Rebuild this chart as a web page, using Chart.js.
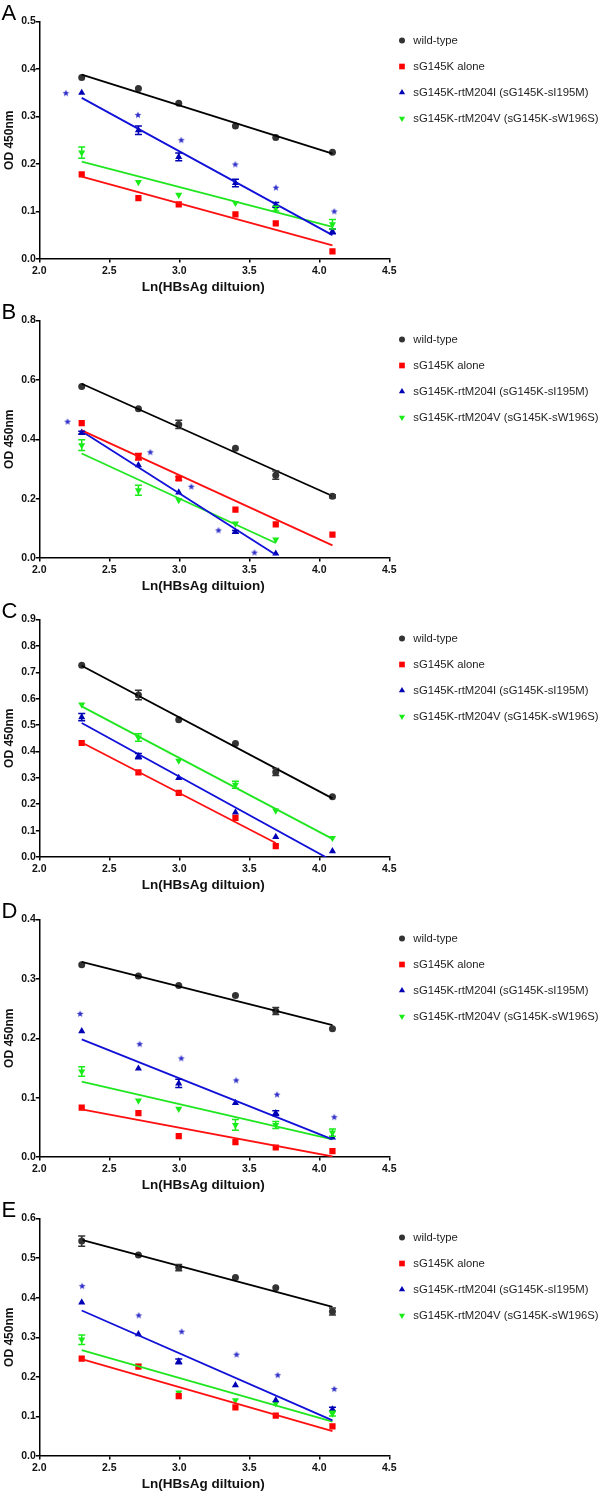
<!DOCTYPE html>
<html><head><meta charset="utf-8">
<script src="https://cdn.jsdelivr.net/npm/chart.js@4.4.1/dist/chart.umd.min.js"></script>
<style>
html,body{margin:0;padding:0;background:#fff;width:600px;height:1491px;overflow:hidden;position:relative;}
.panel{position:absolute;left:0;width:600px;height:295px;}
.panel canvas{position:absolute;left:0;top:0;}
.letter{position:absolute;left:1.5px;top:2.2px;font:22px "Liberation Sans",Arial,sans-serif;line-height:22px;color:#000;}
</style></head><body>
<script>
const FONT = '"Liberation Sans", Arial, Helvetica, sans-serif';

// ---------- shared ----------
const xValues = [2.303, 2.708, 2.996, 3.401, 3.689, 4.094];   // Ln(10,15,20,30,40,60)
const xTicks = [2.0, 2.5, 3.0, 3.5, 4.0, 4.5];
const seriesNames = ['wild-type', 'sG145K alone', 'sG145K-rtM204I (sG145K-sI195M)', 'sG145K-rtM204V (sG145K-sW196S)'];
const panelLetters = ['A', 'B', 'C', 'D', 'E'];
const yTitle = 'OD 450nm';
const xTitle = 'Ln(HBsAg diltuion)';

// ---------- panel A ----------
const yTicksA = [0.0, 0.1, 0.2, 0.3, 0.4, 0.5];
const wildA = [0.382, 0.359, 0.328, 0.280, 0.256, 0.225];
const wildErrA = [0, 0, 0, 0, 0, 0];
const aloneA = [0.178, 0.128, 0.115, 0.094, 0.075, 0.016];
const aloneErrA = [0, 0, 0, 0, 0, 0];
const m204iA = [0.350, 0.271, 0.215, 0.160, 0.114, 0.058];
const m204iErrA = [0, 0.009, 0.008, 0.008, 0.005, 0.005];
const m204vA = [0.224, 0.162, 0.135, 0.118, 0.106, 0.073];
const m204vErrA = [0.012, 0, 0, 0, 0.005, 0.010];
const starXA = [2.19, 2.705, 3.014, 3.40, 3.69, 4.107];
const starYA = [0.349, 0.303, 0.250, 0.199, 0.150, 0.100];

// ---------- panel B ----------
const yTicksB = [0.0, 0.2, 0.4, 0.6, 0.8];
const wildB = [0.578, 0.503, 0.450, 0.370, 0.279, 0.208];
const wildErrB = [0, 0, 0.014, 0, 0.014, 0.005];
const aloneB = [0.454, 0.341, 0.268, 0.163, 0.113, 0.079];
const aloneErrB = [0, 0.011, 0.006, 0, 0, 0];
const m204iB = [0.422, 0.313, 0.221, 0.088, 0.015];
const m204iErrB = [0.005, 0, 0, 0.005, 0];
const m204vB = [0.380, 0.228, 0.195, 0.116, 0.062];
const m204vErrB = [0.018, 0.017, 0, 0, 0];
const starXB = [2.202, 2.793, 3.086, 3.28, 3.537];
const starYB = [0.459, 0.356, 0.240, 0.093, 0.018];

// ---------- panel C ----------
const yTicksC = [0.0, 0.1, 0.2, 0.3, 0.4, 0.5, 0.6, 0.7, 0.8, 0.9];
const wildC = [0.727, 0.614, 0.520, 0.430, 0.322, 0.228];
const wildErrC = [0, 0.018, 0, 0, 0.013, 0];
const aloneC = [0.432, 0.321, 0.243, 0.148, 0.041];
const aloneErrC = [0, 0, 0, 0, 0];
const m204iC = [0.530, 0.382, 0.300, 0.169, 0.076, 0.022];
const m204iErrC = [0.014, 0.010, 0, 0, 0, 0];
const m204vC = [0.578, 0.453, 0.365, 0.274, 0.176, 0.072];
const m204vErrC = [0, 0.014, 0, 0.013, 0, 0];
const starXC = [];
const starYC = [];

// ---------- panel D ----------
const yTicksD = [0.0, 0.1, 0.2, 0.3, 0.4];
const wildD = [0.324, 0.305, 0.289, 0.272, 0.246, 0.216];
const wildErrD = [0, 0, 0, 0, 0.006, 0];
const aloneD = [0.083, 0.074, 0.035, 0.025, 0.016, 0.010];
const aloneErrD = [0, 0, 0, 0, 0, 0];
const m204iD = [0.212, 0.149, 0.124, 0.091, 0.074, 0.033];
const m204iErrD = [0, 0, 0.007, 0, 0.004, 0];
const m204vD = [0.144, 0.095, 0.081, 0.054, 0.054, 0.041];
const m204vErrD = [0.008, 0, 0, 0.009, 0.006, 0.006];
const starXD = [2.292, 2.717, 3.014, 3.406, 3.698, 4.107];
const starYD = [0.241, 0.190, 0.166, 0.129, 0.105, 0.067];

// ---------- panel E ----------
const yTicksE = [0.0, 0.1, 0.2, 0.3, 0.4, 0.5, 0.6];
const wildE = [0.543, 0.508, 0.476, 0.451, 0.425, 0.365];
const wildErrE = [0.013, 0, 0.008, 0, 0, 0.009];
const aloneE = [0.246, 0.226, 0.151, 0.123, 0.102, 0.075];
const aloneErrE = [0, 0, 0, 0, 0, 0];
const m204iE = [0.388, 0.308, 0.239, 0.179, 0.141, 0.118];
const m204iErrE = [0, 0, 0.006, 0, 0, 0.005];
const m204vE = [0.294, 0.228, 0.160, 0.141, 0.133, 0.107];
const m204vErrE = [0.012, 0, 0, 0, 0, 0.006];
const starXE = [2.306, 2.71, 3.017, 3.409, 3.703, 4.107];
const starYE = [0.429, 0.355, 0.314, 0.256, 0.204, 0.169];

const panels = [
  {yTicks: yTicksA, series: [[wildA, wildErrA], [aloneA, aloneErrA], [m204iA, m204iErrA], [m204vA, m204vErrA]], stars: [starXA, starYA]},
  {yTicks: yTicksB, series: [[wildB, wildErrB], [aloneB, aloneErrB], [m204iB, m204iErrB], [m204vB, m204vErrB]], stars: [starXB, starYB]},
  {yTicks: yTicksC, series: [[wildC, wildErrC], [aloneC, aloneErrC], [m204iC, m204iErrC], [m204vC, m204vErrC]], stars: [starXC, starYC]},
  {yTicks: yTicksD, series: [[wildD, wildErrD], [aloneD, aloneErrD], [m204iD, m204iErrD], [m204vD, m204vErrD]], stars: [starXD, starYD]},
  {yTicks: yTicksE, series: [[wildE, wildErrE], [aloneE, aloneErrE], [m204iE, m204iErrE], [m204vE, m204vErrE]], stars: [starXE, starYE]},
];

// ---------- styles ----------
const panelTops = [0, 299, 598, 898, 1197];
const styles = [
  {point: '#333333', line: '#000000', pointStyle: 'circle', radius: 3.5, rotation: 0, legendRadius: 3},
  {point: '#ff0000', line: '#ff1010', pointStyle: 'rect', radius: 4.4, rotation: 0, legendRadius: 4},
  {point: '#0000b4', line: '#1010d8', pointStyle: 'triangle', radius: 4.1, rotation: 0, legendRadius: 3.6},
  {point: '#19ec19', line: '#20e620', pointStyle: 'triangle', radius: 4.1, rotation: 180, legendRadius: 3.6},
];
const starColor = '#2c2cc8';

function makeStar(color, R, r) {
  const size = Math.ceil(R * 2) + 2;
  const c = document.createElement('canvas');
  c.width = size; c.height = size;
  const g = c.getContext('2d');
  g.fillStyle = color;
  g.beginPath();
  for (let i = 0; i < 10; i++) {
    const ang = -Math.PI / 2 + i * Math.PI / 5;
    const rad = i % 2 ? r : R;
    g.lineTo(size / 2 + rad * Math.cos(ang), size / 2 + rad * Math.sin(ang));
  }
  g.closePath(); g.fill();
  return c;
}
const starImg = makeStar(starColor, 3.6, 1.5);

function linFit(xs, ys) {
  const n = ys.length;
  let mx = 0, my = 0;
  for (let i = 0; i < n; i++) { mx += xs[i]; my += ys[i]; }
  mx /= n; my /= n;
  let sxy = 0, sxx = 0;
  for (let i = 0; i < n; i++) { sxy += (xs[i] - mx) * (ys[i] - my); sxx += (xs[i] - mx) * (xs[i] - mx); }
  const m = sxy / sxx, b = my - m * mx;
  return [{x: xs[0], y: m * xs[0] + b}, {x: xs[n - 1], y: m * xs[n - 1] + b}];
}

const errorBarPlugin = {
  id: 'errorBars',
  afterDatasetsDraw(chart) {
    const ctx = chart.ctx, ys = chart.scales.y;
    chart.data.datasets.forEach((ds, i) => {
      if (!ds.errors) return;
      const meta = chart.getDatasetMeta(i);
      ctx.save();
      ctx.strokeStyle = ds.pointBackgroundColor;
      ctx.lineWidth = 1.5;
      meta.data.forEach((el, j) => {
        const e = ds.errors[j];
        if (!e) return;
        const v = ds.data[j].y;
        const y1 = ys.getPixelForValue(v + e), y2 = ys.getPixelForValue(v - e);
        ctx.beginPath();
        ctx.moveTo(el.x, y1); ctx.lineTo(el.x, y2);
        ctx.moveTo(el.x - 3.5, y1); ctx.lineTo(el.x + 3.5, y1);
        ctx.moveTo(el.x - 3.5, y2); ctx.lineTo(el.x + 3.5, y2);
        ctx.stroke();
      });
      ctx.restore();
    });
  }
};

const legendPlugin = {
  id: 'sideLegend',
  afterDraw(chart) {
    const ctx = chart.ctx;
    ctx.save();
    chart.data.datasets.forEach(ds => {
      if (ds.legendIndex === undefined) return;
      const k = ds.legendIndex;
      const st = styles[k];
      const y = 40.5 + 26 * k;
      ctx.fillStyle = st.point;
      ctx.strokeStyle = st.point;
      if (Chart.helpers && Chart.helpers.drawPoint) {
        Chart.helpers.drawPoint(ctx, {pointStyle: st.pointStyle, radius: st.legendRadius, rotation: st.rotation, borderWidth: 0}, 402, y);
      }
      ctx.fillStyle = '#1e1e1e';
      ctx.font = '11.3px ' + FONT;
      ctx.textAlign = 'left';
      ctx.textBaseline = 'middle';
      ctx.fillText(ds.label, 413.3, y + 0.5);
    });
    // x-axis title
    const ca = chart.chartArea;
    ctx.fillStyle = '#111';
    ctx.font = 'bold 13.5px ' + FONT;
    ctx.textAlign = 'center';
    ctx.textBaseline = 'middle';
    ctx.fillText(xTitle, (ca.left + ca.right) / 2 - 11, 287);
    ctx.restore();
  }
};

panels.forEach((p, pi) => {
  const div = document.createElement('div');
  div.className = 'panel';
  div.style.top = panelTops[pi] + 'px';
  const letter = document.createElement('div');
  letter.className = 'letter';
  letter.textContent = panelLetters[pi];
  const canvas = document.createElement('canvas');
  canvas.width = 600; canvas.height = 295;
  div.appendChild(canvas);
  div.appendChild(letter);
  document.body.appendChild(div);

  const datasets = [];
  p.series.forEach(([vals, errs], k) => {
    const st = styles[k];
    const xs = xValues.slice(0, vals.length);
    datasets.push({
      label: seriesNames[k],
      legendIndex: k,
      data: xs.map((x, j) => ({x, y: vals[j]})),
      errors: errs,
      showLine: false,
      pointStyle: st.pointStyle,
      pointRotation: st.rotation,
      pointRadius: st.radius,
      pointBorderWidth: 0,
      pointBackgroundColor: st.point,
      pointBorderColor: st.point,
      order: 2,
    });
    datasets.push({
      label: seriesNames[k] + ' fit',
      data: linFit(xs, vals),
      showLine: true,
      borderColor: st.line,
      borderWidth: 1.8,
      pointRadius: 0,
      fill: false,
      order: 1,
    });
  });
  if (p.stars[0].length) {
    datasets.push({
      label: 'significance',
      data: p.stars[0].map((x, j) => ({x, y: p.stars[1][j]})),
      showLine: false,
      pointStyle: starImg,
      pointRadius: 4,
      order: 3,
    });
  }

  const yT = p.yTicks;
  new Chart(canvas, {
    type: 'scatter',
    data: {datasets},
    options: {
      responsive: false,
      animation: false,
      devicePixelRatio: 1,
      events: [],
      layout: {padding: {top: 21.5, right: 210.7, bottom: 0, left: 0}},
      plugins: {legend: {display: false}, tooltip: {enabled: false}},
      scales: {
        x: {
          type: 'linear', min: xTicks[0], max: xTicks[xTicks.length - 1],
          afterBuildTicks: s => { s.ticks = xTicks.map(v => ({value: v})); },
          afterFit: s => { s.height = 36; },
          ticks: {callback: v => Number(v).toFixed(1), padding: 2, maxRotation: 0, autoSkip: false,
                  font: {family: FONT, size: 10.5, weight: 'bold'}, color: '#111'},
          grid: {drawOnChartArea: false, drawTicks: true, tickLength: 3.5, color: '#000', lineWidth: 1.5},
          border: {display: true, color: '#000', width: 1.5},
          title: {display: false}
        },
        y: {
          type: 'linear', min: yT[0], max: yT[yT.length - 1],
          afterBuildTicks: s => { s.ticks = yT.map(v => ({value: v})); },
          afterFit: s => { s.width = 39.3; },
          ticks: {callback: v => Number(v).toFixed(1), padding: 0, autoSkip: false,
                  font: {family: FONT, size: 10.5, weight: 'bold'}, color: '#111'},
          grid: {drawOnChartArea: false, drawTicks: true, tickLength: 3.5, color: '#000', lineWidth: 1.5},
          border: {display: true, color: '#000', width: 1.5},
          title: {display: true, text: yTitle, font: {family: FONT, size: 12, weight: 'bold'}, color: '#111', padding: {top: 2, bottom: 0}}
        }
      }
    },
    plugins: [errorBarPlugin, legendPlugin]
  });
});
</script>
</body></html>
